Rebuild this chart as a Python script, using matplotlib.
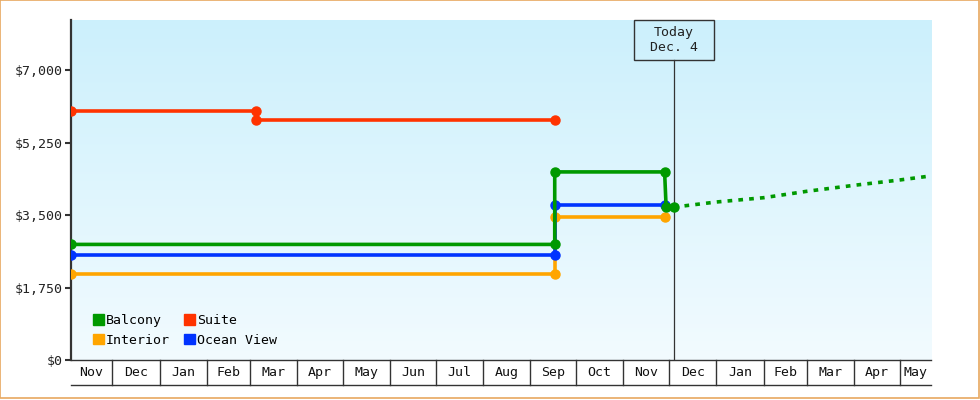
import numpy as np
import pandas as pd
import matplotlib
matplotlib.use('Agg')
import matplotlib.pyplot as plt
import matplotlib.dates as mdates
import matplotlib.transforms as mtransforms
from matplotlib.patches import Patch, Rectangle

plt.rcParams['font.family'] = ['DejaVu Sans Mono']

# price history per cabin type (step changes)
suite_dates = ['2021-11-04', '2022-03-05', '2022-03-05', '2022-09-17']
suite_vals = [6000, 6000, 5800, 5800]

balcony_dates = ['2021-11-04', '2022-09-17', '2022-09-17', '2022-11-28', '2022-11-29', '2022-12-04']
balcony_vals = [2790, 2790, 4540, 4540, 3690, 3690]

ocean_dates = ['2021-11-04', '2022-09-17', '2022-09-17', '2022-11-28']
ocean_vals = [2530, 2530, 3730, 3730]

interior_dates = ['2021-11-04', '2022-09-17', '2022-09-17', '2022-11-28']
interior_vals = [2080, 2080, 3445, 3445]

# forecast for balcony
fc_dates = ['2022-12-04', '2023-01-01', '2023-02-01', '2023-03-01', '2023-04-01', '2023-05-01', '2023-05-21']
fc_vals = [3690, 3814, 3918, 4071, 4216, 4345, 4441]

today = '2022-12-04'
x_start = '2021-11-04'
x_end = '2023-05-21 14:00'

yticks = [0, 1750, 3500, 5250, 7000]
ytick_labels = ['$0', '$1,750', '$3,500', '$5,250', '$7,000']

GREEN = '#009900'
RED = '#ff3300'
ORANGE = '#ffa500'
BLUE = '#0033ff'
DARK = '#333333'

fig = plt.figure(figsize=(9.8, 4.0), dpi=100)
pos = [71 / 980, 40 / 400, 860 / 980, 340 / 400]

# gradient background
bg = fig.add_axes(pos, zorder=0)
grad = np.linspace(0, 1, 256).reshape(-1, 1)
top = np.array([0xcc, 0xf0, 0xfc]) / 255
bot = np.array([0xf2, 0xfb, 0xff]) / 255
img = top[None, None, :] * (1 - grad[:, :, None]) + bot[None, None, :] * grad[:, :, None]
bg.imshow(img, aspect='auto', extent=[0, 1, 0, 1])
bg.axis('off')

ax = fig.add_axes(pos, zorder=1)
ax.patch.set_alpha(0)

def d(lst):
    return pd.to_datetime(lst)

lw = 2.6
ms = 6.5
ax.plot(d(suite_dates), suite_vals, color=RED, lw=lw, marker='o', ms=ms, zorder=3)
ax.plot(d(interior_dates), interior_vals, color=ORANGE, lw=lw, marker='o', ms=ms, zorder=3)
ax.plot(d(ocean_dates), ocean_vals, color=BLUE, lw=lw, marker='o', ms=ms, zorder=4)
ax.plot(d(balcony_dates), balcony_vals, color=GREEN, lw=lw, marker='o', ms=ms, zorder=5)
ax.plot(d(fc_dates), fc_vals, color=GREEN, lw=lw, dashes=(1.3, 1.7), zorder=5)

x0, x1 = pd.Timestamp(x_start), pd.Timestamp(x_end)
ax.set_xlim(x0, x1)
ax.set_ylim(0, 8207)

ax.set_yticks(yticks)
ax.set_yticklabels(ytick_labels, fontsize=9.5, color='#222222')
ax.tick_params(axis='y', length=4, width=1.5, color=DARK, pad=2)
ax.set_xticks([])
for s in ['top', 'right']:
    ax.spines[s].set_visible(False)
ax.spines['left'].set_color(DARK)
ax.spines['left'].set_linewidth(1.6)
ax.spines['bottom'].set_color(DARK)
ax.spines['bottom'].set_linewidth(1.0)

# month cells under the axis
trans = mtransforms.blended_transform_factory(ax.transData, ax.transAxes)
months = pd.date_range('2021-11-01', '2023-06-01', freq='MS')
edges = [x0] + [m for m in months if x0 < m < x1] + [x1]
for i in range(len(edges) - 1):
    a, b = edges[i], edges[i + 1]
    mid = a + (b - a) / 2
    ax.text(mid, -0.038, a.strftime('%b'), transform=trans, ha='center', va='center',
            fontsize=9.5, color='#111111', clip_on=False)
    if i > 0:
        ax.plot([a, a], [0, -0.0735], transform=trans, color=DARK, lw=1.0, clip_on=False)
ax.plot([x0, x1], [-0.0735, -0.0735], transform=trans, color=DARK, lw=1.0, clip_on=False)

# today marker
t = pd.Timestamp(today)
box_bottom = (360 - 60) / 340
ax.plot([t, t], [0, box_bottom], transform=trans, color=DARK, lw=0.9, zorder=2)
half = pd.Timedelta(days=26.2)
ax.add_patch(Rectangle((mdates.date2num(t - half), box_bottom), 2 * 26.2, 1 - box_bottom,
                       transform=trans, facecolor='none', edgecolor=DARK, lw=1.0,
                       clip_on=False, zorder=6))
ax.text(t, (box_bottom + 1) / 2, 'Today\nDec. 4', transform=trans, ha='center', va='center',
        fontsize=9.5, color='#222222', linespacing=1.2, zorder=7)

# legend
handles = [Patch(color=GREEN, label='Balcony'), Patch(color=ORANGE, label='Interior'),
           Patch(color=RED, label='Suite'), Patch(color=BLUE, label='Ocean View')]
ax.legend(handles=handles, ncol=2, loc='lower left', bbox_to_anchor=(0.025, 0.039),
          frameon=False, fontsize=9.5, handlelength=0.85, handleheight=0.85,
          handletextpad=0.15, columnspacing=1.05, labelspacing=0.5, borderpad=0,
          borderaxespad=0)

# orange frame around the figure
fig.patches.append(Rectangle((0.0005, 0.004), 0.9985, 0.995, transform=fig.transFigure,
                             fill=False, edgecolor='#e8a860', lw=1.2))

fig.savefig('out.png', dpi=100)
